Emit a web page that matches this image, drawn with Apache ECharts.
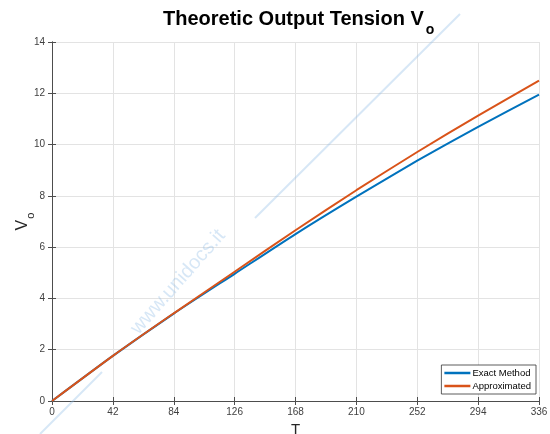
<!DOCTYPE html>
<html>
<head>
<meta charset="utf-8">
<script src="https://cdn.jsdelivr.net/npm/echarts@6/dist/echarts.min.js"></script>
<style>html,body{margin:0;padding:0;background:#fff}#c{width:550px;height:434px}</style>
</head>
<body>
<div id="c"></div>
<script>
var tValues = [0, 42, 84, 126, 168, 210, 252, 294, 336];
var exactValues = [0, 1.76, 3.41, 4.96, 6.51, 7.97, 9.37, 10.69, 11.95];
var approxValues = [0, 1.76, 3.42, 5.04, 6.66, 8.22, 9.71, 11.13, 12.49];
var xTicks = [0, 42, 84, 126, 168, 210, 252, 294, 336];
var yTicks = [0, 2, 4, 6, 8, 10, 12, 14];
var seriesNames = ['Exact Method', 'Approximated'];

function pairs(xs, ys) { return xs.map(function (x, i) { return [x, ys[i]]; }); }

var font = 'Liberation Sans, Arial, Helvetica, sans-serif';
var axisColor = '#4d4d4d';
var chart = echarts.init(document.getElementById('c'), null, {renderer: 'canvas'});
var baseX = {
  type: 'value', min: xTicks[0], max: xTicks[xTicks.length - 1], interval: 42,
  axisLine: {show: true, lineStyle: {color: axisColor, width: 1}},
  axisTick: {show: true, inside: true, length: 4, lineStyle: {color: axisColor}}
};
var baseY = {
  type: 'value', min: yTicks[0], max: yTicks[yTicks.length - 1], interval: 2,
  axisLine: {show: true, lineStyle: {color: axisColor, width: 1}},
  axisTick: {show: true, inside: true, length: 4, lineStyle: {color: axisColor}}
};
chart.setOption({
  animation: false,
  backgroundColor: '#ffffff',
  title: {
    text: '{a|Theoretic Output Tension V}{b|o}',
    left: 158, top: 4,
    textStyle: {
      rich: {
        a: {fontFamily: font, fontSize: 20, fontWeight: 'bold', color: '#000', lineHeight: 22, verticalAlign: 'top'},
        b: {fontFamily: font, fontSize: 14, fontWeight: 'bold', color: '#000', lineHeight: 14, padding: [21, 0, 0, 2]}
      }
    }
  },
  grid: {left: 52, right: 11, top: 42, bottom: 33, containLabel: false, outerBoundsMode: 'none'},
  legend: {
    data: seriesNames,
    orient: 'vertical',
    right: 14, bottom: 40,
    backgroundColor: '#fff',
    borderColor: '#333', borderWidth: 0.8, borderRadius: 0,
    padding: [3, 5, 3, 3],
    itemGap: 3,
    itemWidth: 26, itemHeight: 2.5,
    icon: 'rect',
    textStyle: {fontFamily: font, fontSize: 9.5, color: '#000', padding: [0, 0, 0, -3]}
  },
  xAxis: [
    Object.assign({}, baseX, {
      position: 'bottom',
      name: 'T', nameLocation: 'middle', nameGap: 20,
      nameTextStyle: {fontFamily: font, fontSize: 15, color: '#262626'},
      axisLabel: {fontFamily: font, fontSize: 10, color: '#404040', margin: 6,
        formatter: function (v) { return xTicks.indexOf(v) >= 0 ? String(v) : ''; }},
      splitLine: {show: true, lineStyle: {color: '#e3e3e3', width: 1}}
    }),
    Object.assign({}, baseX, {
      position: 'top', axisLabel: {show: false}, splitLine: {show: false}
    })
  ],
  yAxis: [
    Object.assign({}, baseY, {
      position: 'left',
      name: '{a|V}{b|o}', nameLocation: 'middle', nameGap: 19, nameRotate: 90,
      nameMoveOverlap: false,
      nameTextStyle: {
        rich: {
          a: {fontFamily: font, fontSize: 16, color: '#262626', lineHeight: 18, verticalAlign: 'top'},
          b: {fontFamily: font, fontSize: 11, color: '#262626', lineHeight: 12, padding: [13, 0, 0, 1]}
        }
      },
      axisLabel: {fontFamily: font, fontSize: 10, color: '#404040', margin: 7},
      splitLine: {show: true, lineStyle: {color: '#e3e3e3', width: 1}}
    }),
    Object.assign({}, baseY, {
      position: 'right', axisLabel: {show: false}, splitLine: {show: false}
    })
  ],
  series: [
    {
      name: seriesNames[0], type: 'line', xAxisIndex: 0, yAxisIndex: 0,
      data: pairs(tValues, exactValues), showSymbol: false, symbol: 'none',
      smooth: 0.2,
      lineStyle: {color: '#0072BD', width: 2}, itemStyle: {color: '#0072BD'}, z: 3
    },
    {
      name: seriesNames[1], type: 'line', xAxisIndex: 0, yAxisIndex: 0,
      data: pairs(tValues, approxValues), showSymbol: false, symbol: 'none',
      smooth: 0.2,
      lineStyle: {color: '#D95319', width: 2}, itemStyle: {color: '#D95319'}, z: 4
    }
  ],
  graphic: [
    {type: 'line', silent: true, z: 100, shape: {x1: 40, y1: 434, x2: 102, y2: 372},
      style: {stroke: 'rgba(140,185,230,0.35)', lineWidth: 2}},
    {type: 'line', silent: true, z: 100, shape: {x1: 255, y1: 218, x2: 460, y2: 14},
      style: {stroke: 'rgba(140,185,230,0.35)', lineWidth: 2}},
    {type: 'text', silent: true, z: 100, x: 178, y: 282, rotation: Math.PI * 0.27,
      style: {text: 'www.unidocs.it', fill: 'rgba(140,185,230,0.35)', fontFamily: font, fontSize: 20,
        textAlign: 'center', textVerticalAlign: 'middle'}}
  ]
});
</script>
</body>
</html>
